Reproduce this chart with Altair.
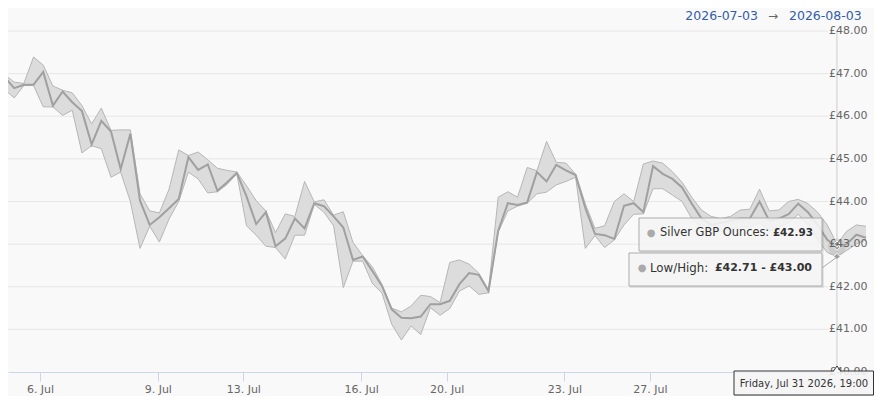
import altair as alt
import pandas as pd

# ---------------- data ----------------
SESSIONS = [
    ("2026-07-03", [7, 13, 19]),
    ("2026-07-05", [22]),
    ("2026-07-06", [1, 7, 13, 19]),
    ("2026-07-07", [1, 7, 13, 19]),
    ("2026-07-08", [1, 7, 13, 19]),
    ("2026-07-09", [1, 7, 13, 19]),
    ("2026-07-10", [1, 7, 13, 19]),
    ("2026-07-12", [22]),
    ("2026-07-13", [1, 7, 13, 19]),
    ("2026-07-14", [1, 7, 13, 19]),
    ("2026-07-15", [1, 7, 13, 19]),
    ("2026-07-16", [1, 7, 13, 19]),
    ("2026-07-17", [1, 7, 13, 19]),
    ("2026-07-19", [22]),
    ("2026-07-20", [1, 7, 13, 19]),
    ("2026-07-21", [1, 7, 13, 19]),
    ("2026-07-22", [1, 7, 13, 19]),
    ("2026-07-23", [1, 7, 13, 19]),
    ("2026-07-24", [1, 7, 13, 19]),
    ("2026-07-26", [22]),
    ("2026-07-27", [1, 7, 13, 19]),
    ("2026-07-28", [1, 7, 13, 19]),
    ("2026-07-29", [1, 7, 13, 19]),
    ("2026-07-30", [1, 7, 13, 19]),
    ("2026-07-31", [1, 7, 13, 19]),
    ("2026-08-02", [22]),
    ("2026-08-03", [1, 7]),
]

CLOSE = [46.92, 46.66, 46.74, 46.74, 47.04, 46.25, 46.58, 46.33, 46.12, 45.34,
         45.89, 45.64, 44.76, 45.59, 44.02, 43.45, 43.63, 43.84, 44.06, 45.04,
         44.74, 44.87, 44.25, 44.45, 44.67, 44.12, 43.47, 43.75, 42.95, 43.13,
         43.60, 43.37, 43.96, 43.89, 43.65, 43.39, 42.63, 42.71, 42.37, 42.02,
         41.47, 41.27, 41.26, 41.30, 41.59, 41.59, 41.67, 42.06, 42.32, 42.28,
         41.90, 43.31, 43.96, 43.92, 43.98, 44.69, 44.47, 44.86, 44.73, 44.62,
         43.85, 43.24, 43.21, 43.12, 43.90, 43.96, 43.75, 44.83, 44.65, 44.53,
         44.33, 43.95, 43.60, 43.45, 43.50, 43.55, 43.60, 43.60, 44.00, 43.55,
         43.60, 43.70, 43.95, 43.75, 43.45, 43.10, 42.93, 43.00, 43.22, 43.15]

HIGH = [46.98, 46.80, 46.77, 47.39, 47.20, 46.71, 46.61, 46.55, 46.25, 45.82,
        46.19, 45.67, 45.68, 45.68, 44.18, 43.78, 43.73, 44.29, 45.21, 45.08,
        45.16, 44.98, 44.78, 44.73, 44.69, 44.37, 44.02, 43.78, 43.27, 43.71,
        43.65, 44.47, 43.99, 44.04, 43.68, 43.76, 43.04, 42.73, 42.47, 42.05,
        41.50, 41.41, 41.55, 41.80, 41.77, 41.63, 42.57, 42.63, 42.53, 42.32,
        41.92, 44.10, 44.23, 44.10, 44.80, 44.72, 45.41, 44.92, 44.90, 44.64,
        43.95, 43.37, 43.43, 44.00, 44.18, 44.00, 44.88, 44.95, 44.90, 44.70,
        44.45, 44.10, 43.80, 43.65, 43.60, 43.65, 43.80, 43.82, 44.29, 43.78,
        43.80, 44.00, 44.05, 43.95, 43.75, 43.45, 43.00, 43.30, 43.45, 43.42]

LOW = [46.63, 46.43, 46.72, 46.72, 46.22, 46.22, 46.02, 46.14, 45.14, 45.31,
       45.24, 44.57, 44.69, 44.00, 42.90, 43.42, 43.05, 43.59, 44.00, 44.69,
       44.53, 44.20, 44.23, 44.40, 44.65, 43.43, 43.21, 42.95, 42.92, 42.65,
       43.21, 43.21, 43.93, 43.75, 43.43, 41.98, 42.60, 42.60, 42.08, 41.85,
       41.12, 40.75, 41.08, 40.88, 41.51, 41.33, 41.49, 41.90, 42.02, 41.82,
       41.86, 43.28, 43.78, 43.89, 43.96, 44.18, 44.22, 44.39, 44.47, 44.57,
       42.90, 43.20, 42.92, 43.10, 43.45, 43.70, 43.71, 44.30, 44.30, 44.15,
       44.00, 43.60, 43.40, 43.25, 43.30, 43.35, 43.40, 43.40, 43.50, 43.30,
       43.40, 43.50, 43.70, 43.45, 43.10, 42.80, 42.71, 42.85, 43.00, 43.10]

# visible axis ticks (later ones sit under the hover date label)
TICK_DATES = ["2026-07-06", "2026-07-09", "2026-07-13", "2026-07-16", "2026-07-20",
              "2026-07-23", "2026-07-27"]
TICK_LABELS = ["6. Jul", "9. Jul", "13. Jul", "16. Jul", "20. Jul",
               "23. Jul", "27. Jul"]
Y_TICKS = [40, 41, 42, 43, 44, 45, 46, 47, 48]
GRID_TICKS = [41, 42, 43, 44, 45, 46, 47, 48]

SERIES_NAME = "Silver GBP Ounces"
HOVER_INDEX = 86
HOVER_LABEL = "Friday, Jul 31 2026, 19:00"
RANGE_FROM = "2026-07-03"
RANGE_TO = "2026-08-03"

# ---------------- prep ----------------
times = [pd.Timestamp(f"{d} {h:02d}:00") for d, hs in SESSIONS for h in hs]
df = pd.DataFrame({"i": list(range(len(times))), "close": CLOSE, "high": HIGH, "low": LOW})


def ordinal_pos(t):
    for k in range(len(times) - 1):
        if times[k] <= t < times[k + 1]:
            return k + (t - times[k]) / (times[k + 1] - times[k])
    return float(len(times) - 1)


tick_pos = [round(ordinal_pos(pd.Timestamp(d)), 4) for d in TICK_DATES]
expr = f"'{TICK_LABELS[-1]}'"
for k in range(len(tick_pos) - 2, -1, -1):
    mid = (tick_pos[k] + tick_pos[k + 1]) / 2
    expr = f"datum.value < {mid:.3f} ? '{TICK_LABELS[k]}' : ({expr})"

hov = df[df.i == HOVER_INDEX].reset_index(drop=True)
hc, hl, hh = float(hov.close[0]), float(hov.low[0]), float(hov.high[0])

W, H = 858, 341
FONT = "DejaVu Sans"
xscale = alt.Scale(domain=[0.36, len(times) - 1], nice=False, zero=False)
yscale = alt.Scale(domain=[40, 48], nice=False, zero=False)
one = pd.DataFrame({"k": [0]})

grid = alt.Chart(pd.DataFrame({"v": GRID_TICKS})).mark_rule(color="#e6e6e6", strokeWidth=1).encode(
    y=alt.Y("v:Q", scale=yscale, axis=None), x=alt.value(0), x2=alt.value(820))

xaxis = alt.Axis(values=tick_pos, labelExpr=expr, title=None, grid=False,
                 domainColor="#ccd6eb", tickColor="#ccd6eb", tickSize=9,
                 labelColor="#666666", labelFontSize=11, labelFont=FONT,
                 labelPadding=2, labelFlush=False, labelOverlap=False, zindex=0)

area = alt.Chart(df).mark_area(color="#dcdcdc", opacity=1).encode(
    x=alt.X("i:Q", scale=xscale, axis=xaxis),
    y=alt.Y("low:Q", scale=yscale, axis=None),
    y2="high:Q")
hi_line = alt.Chart(df).mark_line(color="#b6b6b6", strokeWidth=1).encode(
    x=alt.X("i:Q", scale=xscale), y=alt.Y("high:Q", scale=yscale))
lo_line = alt.Chart(df).mark_line(color="#b6b6b6", strokeWidth=1).encode(
    x=alt.X("i:Q", scale=xscale), y=alt.Y("low:Q", scale=yscale))
close_line = alt.Chart(df).mark_line(color="#a0a0a0", strokeWidth=2).encode(
    x=alt.X("i:Q", scale=xscale), y=alt.Y("close:Q", scale=yscale))

cross = alt.Chart(hov).mark_rule(color="#cccccc", strokeWidth=1).encode(
    x=alt.X("i:Q", scale=xscale), y=alt.value(0), y2=alt.value(335))

halo = alt.Chart(hov).mark_point(filled=True, color="#aaaaaa", opacity=0.3, size=320).encode(
    x=alt.X("i:Q", scale=xscale), y=alt.Y("close:Q", scale=yscale))
pts = pd.DataFrame({"i": [HOVER_INDEX] * 3, "v": [hc, hl, hh]})
markers = alt.Chart(pts).mark_point(filled=True, color="#999999", stroke="#ffffff",
                                    strokeWidth=1, opacity=1, size=40, shape="diamond").encode(
    x=alt.X("i:Q", scale=xscale), y=alt.Y("v:Q", scale=yscale))

ylabels = alt.Chart(pd.DataFrame({"v": Y_TICKS})).transform_calculate(
    lab="'£' + format(datum.v, '.2f')").mark_text(
    align="right", baseline="middle", font=FONT, fontSize=11, color="#666666").encode(
    y=alt.Y("v:Q", scale=yscale), x=alt.value(W + 1.5), text="lab:N")

rng1 = alt.Chart(one).mark_text(align="right", baseline="middle", font=FONT, fontSize=12.5,
                                color="#335cad").encode(x=alt.value(750), y=alt.value(-15), text=alt.value(RANGE_FROM))
rng_arrow = alt.Chart(one).mark_text(align="center", baseline="middle", font=FONT, fontSize=12,
                                     color="#666666").encode(x=alt.value(765), y=alt.value(-15), text=alt.value("→"))
rng2 = alt.Chart(one).mark_text(align="left", baseline="middle", font=FONT, fontSize=12.5,
                                color="#335cad").encode(x=alt.value(781), y=alt.value(-15), text=alt.value(RANGE_TO))


def box(x1, y1, x2, y2, stroke):
    sh = alt.Chart(one).mark_rect(color="#000000", opacity=0.08).encode(
        x=alt.value(x1 + 1), x2=alt.value(x2 + 2), y=alt.value(y1 + 1), y2=alt.value(y2 + 2))
    b = alt.Chart(one).mark_rect(fill="#f7f7f7", fillOpacity=0.88, stroke=stroke, strokeWidth=1).encode(
        x=alt.value(x1), x2=alt.value(x2), y=alt.value(y1), y2=alt.value(y2))
    return sh + b


def txt(x, y, s, align="left", weight="normal", size=11, color="#333333"):
    return alt.Chart(one).mark_text(align=align, baseline="middle", font=FONT, fontSize=size,
                                    fontWeight=weight, color=color).encode(
        x=alt.value(x), y=alt.value(y), text=alt.value(s))


def seg(x1, y1, x2, y2, color, w=1):
    return alt.Chart(one).mark_rule(color=color, strokeWidth=w).encode(
        x=alt.value(x1), y=alt.value(y1), x2=alt.value(x2), y2=alt.value(y2))


tip1 = box(631, 187, 814, 220, "#aaaaaa") + txt(643, 202, "●", align="center", size=10, color="#aaaaaa") \
    + txt(652, 202, f"{SERIES_NAME}:", size=11.4) \
    + txt(805, 202, f"£{hc:.2f}", align="right", weight="bold", size=10.4)
tip2 = box(621, 222, 814, 255, "#aaaaaa") + seg(814, 237, 829, 226, "#aaaaaa") \
    + txt(634, 237, "●", align="center", size=10, color="#aaaaaa") \
    + txt(642, 237, "Low/High:", size=11.8) \
    + txt(804, 237, f"£{hl:.2f} - £{hh:.2f}", align="right", weight="bold", size=11)
tip3 = box(726, 340, 865.5, 364, "#333333") + seg(826, 340, 832, 340, "#f7f7f7", 2) \
    + seg(825.5, 340, 829, 335, "#333333") + seg(829, 335, 832.5, 340, "#333333") \
    + txt(796, 353, HOVER_LABEL, align="center", size=10)

chart = alt.layer(
    grid, area, hi_line, lo_line, close_line, cross, halo, markers, ylabels,
    rng1, rng_arrow, rng2, tip1, tip2, tip3
).properties(
    width=W, height=H,
    padding={"left": 0, "top": 23, "right": 8, "bottom": 24},
    autosize=alt.AutoSizeParams(type="none"),
    background="#f9f9f9",
).configure_view(stroke=None)

chart.save("out.html", embed_options={"renderer": "svg", "actions": False})
